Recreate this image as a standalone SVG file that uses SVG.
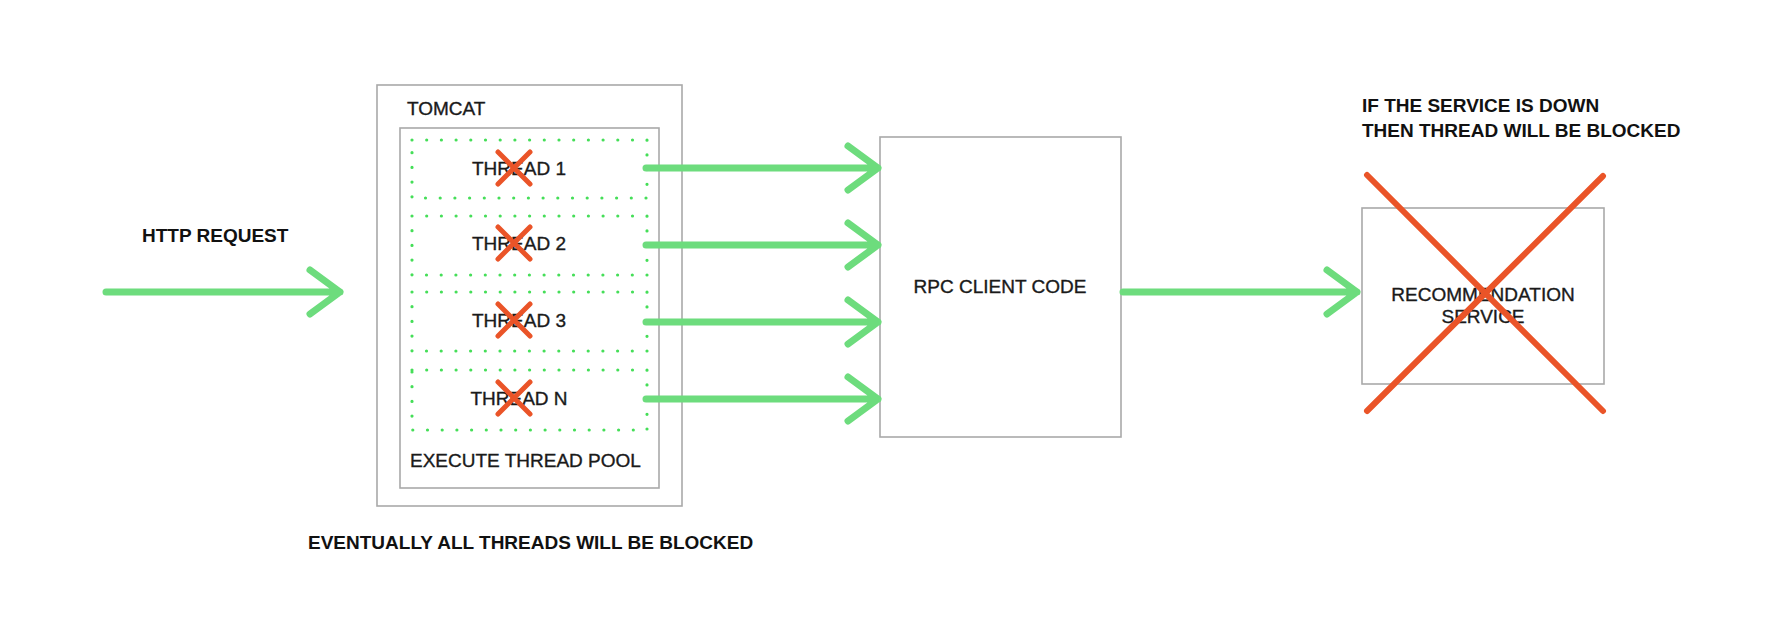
<svg xmlns="http://www.w3.org/2000/svg" width="1790" height="620" viewBox="0 0 1790 620">
<style>
.box{fill:#fff;stroke:#a9a9a9;stroke-width:1.6}
.dots{fill:none;stroke:#45de58;stroke-width:3.2;stroke-linecap:round;stroke-dasharray:0 14.7}
.t{font-family:"Liberation Sans",Arial,sans-serif;font-size:19px;fill:#1a1a1a;stroke:#1a1a1a;stroke-width:0.35}
.b{font-family:"Liberation Sans",Arial,sans-serif;font-size:19px;font-weight:700;fill:#111}
.arr{fill:none;stroke:#6ddc7d;stroke-width:7;stroke-linecap:round;stroke-linejoin:round}
.x{fill:none;stroke:#ea5428;stroke-linecap:round}
</style>
<rect width="1790" height="620" fill="#fff"/>
<text class="b" x="142" y="242">HTTP REQUEST</text>
<g id="tomcat">
<rect class="box" x="377" y="85" width="305" height="421"/>
<text class="t" x="407" y="115">TOMCAT</text>
</g>
<g id="pool">
<rect class="box" x="400" y="128" width="259" height="360"/>
<text class="t" x="410" y="467">EXECUTE THREAD POOL</text>
</g>
<g id="thread1">
<rect class="dots" x="412" y="140" width="235" height="58"/>
<text class="t" x="519" y="175" text-anchor="middle">THREAD 1</text>
<path class="x" stroke-width="5" d="M498 152L530 184M530 152L498 184"/>
</g>
<g id="thread2">
<rect class="dots" x="412" y="216" width="235" height="59"/>
<text class="t" x="519" y="250" text-anchor="middle">THREAD 2</text>
<path class="x" stroke-width="5" d="M498 227L530 259M530 227L498 259"/>
</g>
<g id="thread3">
<rect class="dots" x="412" y="292" width="235" height="59"/>
<text class="t" x="519" y="327" text-anchor="middle">THREAD 3</text>
<path class="x" stroke-width="5" d="M498 304L530 336M530 304L498 336"/>
</g>
<g id="threadN">
<rect class="dots" x="412" y="370" width="235" height="60"/>
<text class="t" x="519" y="405" text-anchor="middle">THREAD N</text>
<path class="x" stroke-width="5" d="M498 382L530 414M530 382L498 414"/>
</g>
<g id="rpc">
<rect class="box" x="880" y="137" width="241" height="300"/>
<text class="t" x="1000" y="293" text-anchor="middle">RPC CLIENT CODE</text>
</g>
<g id="recommendation">
<rect class="box" x="1362" y="208" width="242" height="176"/>
<text class="t" x="1483" y="301" text-anchor="middle">RECOMMENDATION</text>
<text class="t" x="1483" y="323" text-anchor="middle">SERVICE</text>
<path class="x" stroke-width="6" d="M1367 175L1603 411M1603 176L1367 411"/>
</g>
<text class="b" x="1362" y="112">IF THE SERVICE IS DOWN</text>
<text class="b" x="1362" y="137">THEN THREAD WILL BE BLOCKED</text>
<text class="b" x="308" y="549">EVENTUALLY ALL THREADS WILL BE BLOCKED</text>
<g id="connectors">
<path class="arr" d="M106 292H340M310 270L340 292L310 314"/>
<path class="arr" d="M646 168H878M848 146L878 168L848 190"/>
<path class="arr" d="M646 245H878M848 223L878 245L848 267"/>
<path class="arr" d="M646 322H878M848 300L878 322L848 344"/>
<path class="arr" d="M646 399H878M848 377L878 399L848 421"/>
<path class="arr" d="M1123 292H1357M1327 270L1357 292L1327 314"/>
</g>
</svg>
